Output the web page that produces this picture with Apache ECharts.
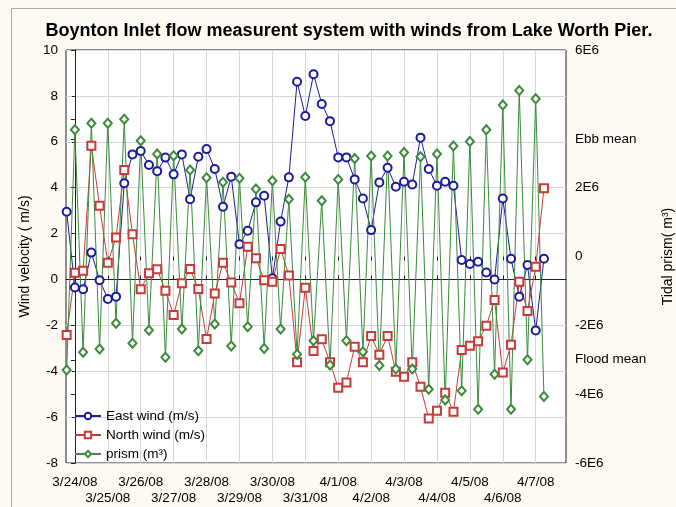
<!DOCTYPE html>
<html><head><meta charset="utf-8">
<script src="https://cdn.jsdelivr.net/npm/echarts@6/dist/echarts.min.js"></script>
<style>html,body{margin:0;padding:0;background:#fdfaf2}#c{width:676px;height:507px}</style>
</head><body><div id="c"></div>
<script>
// ---- data ----
const dayLabels = ['3/24/08','3/25/08','3/26/08','3/27/08','3/28/08','3/29/08','3/30/08','3/31/08',
  '4/1/08','4/2/08','4/3/08','4/4/08','4/5/08','4/6/08','4/7/08'];
// samples every 6 hours starting 3/23/08 18:00 (day offsets from 3/24/08 00:00)
const sampleStartDay = -0.25;
const sampleStepDay = 0.25;
const eastWind = [2.95,-0.35,-0.43,1.17,-0.03,-0.85,-0.75,4.19,5.45,5.6,
  4.99,4.72,5.31,4.58,5.45,3.5,5.35,5.68,4.81,3.17,
  4.48,1.53,2.12,3.36,3.65,0.05,2.52,4.45,8.62,7.12,
  8.94,7.65,6.9,5.32,5.32,4.36,3.53,2.15,4.23,4.87,
  4.04,4.26,4.14,6.18,4.81,4.08,4.26,4.08,0.85,0.67,
  0.77,0.3,0.0,3.53,0.9,-0.75,0.63,-2.22,0.9];
const northWind = [-2.42,0.29,0.38,5.83,3.21,0.73,1.83,4.77,1.97,-0.43,
  0.27,0.44,-0.49,-1.55,-0.17,0.45,-0.42,-2.6,-0.61,0.73,
  -0.13,-1.04,1.42,0.92,-0.03,-0.1,1.33,0.17,-3.61,-0.36,
  -3.12,-2.61,-3.61,-4.72,-4.49,-2.93,-3.61,-2.47,-3.28,-2.46,
  -4.02,-4.24,-3.61,-4.68,-6.06,-5.72,-4.94,-5.77,-3.07,-2.89,
  -2.69,-2.02,-0.9,-4.06,-2.85,-0.1,-1.38,0.55,3.97];
// tidal prism in units of 1E6 m^3
const prismE6 = [-3.3,3.68,-2.78,3.87,-2.69,3.87,-1.94,3.99,-2.52,3.36,
  -2.14,2.98,-2.93,2.93,-2.11,2.51,-2.74,2.29,-1.96,2.16,
  -2.6,2.27,-2.04,1.96,-2.67,2.2,-2.11,1.66,-2.84,2.3,
  -2.45,1.62,-3.15,2.24,-2.45,2.85,-2.77,2.92,-3.17,2.92,
  -3.27,3.02,-3.27,2.9,-3.86,2.98,-4.17,3.21,-3.9,3.34,
  -4.44,3.68,-3.42,4.4,-4.44,4.82,-3.0,4.58,-4.07];
const prismTickValues = [-6,-4,-3,-2,0,2,3.42,4,6];
const prismTickLabels = ['-6E6','-4E6','Flood mean','-2E6','0','2E6','Ebb mean','','6E6'];

// ---- build ----
const dayTicks = dayLabels.map((_, i) => i);
const evenDays = dayTicks.filter(i => i % 2 === 0);
const oddDays = dayTicks.filter(i => i % 2 === 1);
const xOf = i => sampleStartDay + i * sampleStepDay;
const pairs = arr => arr.map((v, i) => [xOf(i), v]);
const FONT = '"Liberation Sans", Arial, sans-serif';
const FS = 13.5;
const XMIN = -0.27, XMAX = 14.92;
const dayFmt = v => dayLabels[Math.round(v)] || '';

const chart = echarts.init(document.getElementById('c'), null, {renderer: 'canvas'});
chart.setOption({
  animation: false,
  backgroundColor: '#fdfaf2',
  textStyle: {fontFamily: FONT},
  graphic: [{
    type: 'rect', shape: {x: 11.5, y: 8.5, width: 700, height: 600},
    style: {fill: 'none', stroke: '#a8a8a8', lineWidth: 1}, silent: true, z: -1
  }],
  title: {
    text: 'Boynton Inlet flow measurent system with winds from Lake Worth Pier.',
    left: 344, textAlign: 'center', top: 17,
    textStyle: {fontFamily: FONT, fontSize: 18, fontWeight: 'bold', color: '#000'}
  },
  grid: {left: 66, right: 110, top: 50, bottom: 44, show: true, containLabel: false,
    outerBoundsMode: 'none',
    backgroundColor: '#ffffff', borderColor: '#222', borderWidth: 1},
  legend: {
    orient: 'vertical', left: 69, top: 404, itemWidth: 26, itemHeight: 8, itemGap: 5,
    textStyle: {fontFamily: FONT, fontSize: FS, color: '#000'},
    data: ['East wind (m/s)', 'North wind (m/s)', 'prism (m³)']
  },
  xAxis: [{
    type: 'value', min: XMIN, max: XMAX,
    axisLine: {show: true, lineStyle: {color: '#222'}},
    axisTick: {show: true, inside: true, length: 4, customValues: dayTicks, lineStyle: {color: '#222'}},
    axisLabel: {customValues: evenDays, margin: 12, fontSize: FS, color: '#000', fontFamily: FONT,
      showMinLabel: true, showMaxLabel: true, formatter: dayFmt},
    splitLine: {show: true, lineStyle: {color: '#d6d6d6', width: 1}}
  }, {
    type: 'value', position: 'top', min: XMIN, max: XMAX,
    axisLine: {show: false},
    axisTick: {show: true, inside: true, length: 4, customValues: dayTicks, lineStyle: {color: '#222'}},
    axisLabel: {show: false},
    splitLine: {show: false}
  }, {
    type: 'value', position: 'bottom', min: XMIN, max: XMAX,
    axisLine: {show: false}, axisTick: {show: false}, splitLine: {show: false},
    axisLabel: {customValues: oddDays, margin: 28, fontSize: FS, color: '#000', fontFamily: FONT,
      showMinLabel: true, showMaxLabel: true, formatter: dayFmt}
  }],
  yAxis: [{
    type: 'value', min: -8, max: 10, interval: 2,
    name: 'Wind velocity ( m/s)', nameLocation: 'middle', nameRotate: 90, nameGap: 27,
    nameTextStyle: {fontFamily: FONT, fontSize: 14, color: '#000'},
    axisLine: {show: true, lineStyle: {color: '#222'}},
    axisTick: {show: true, length: 3, lineStyle: {color: '#222'}},
    axisLabel: {fontSize: FS, color: '#000', margin: 8, fontFamily: FONT},
    splitLine: {show: true, lineStyle: {color: '#d6d6d6', width: 1}}
  }, {
    type: 'value', position: 'right', min: -6, max: 6,
    name: 'Tidal prism( m³)', nameLocation: 'middle', nameRotate: 90, nameGap: 95,
    nameTextStyle: {fontFamily: FONT, fontSize: 14, color: '#000'},
    axisLine: {show: true, lineStyle: {color: '#222'}},
    axisTick: {show: true, inside: true, length: 4, customValues: prismTickValues, lineStyle: {color: '#222'}},
    axisLabel: {customValues: prismTickValues, fontSize: FS, color: '#000', margin: 9, fontFamily: FONT,
      showMinLabel: true, showMaxLabel: true,
      formatter: v => { let best = 0; prismTickValues.forEach((t, k) => { if (Math.abs(t - v) < Math.abs(prismTickValues[best] - v)) best = k; }); return prismTickLabels[best]; }},
    splitLine: {show: false}
  }],
  series: [{
    name: 'East wind (m/s)', type: 'line', xAxisIndex: 0, yAxisIndex: 0,
    data: pairs(eastWind), symbol: 'emptyCircle', symbolSize: 8,
    lineStyle: {color: '#1b1b9c', width: 1}, itemStyle: {color: '#1b1b9c', borderWidth: 1}
  }, {
    name: 'North wind (m/s)', type: 'line', xAxisIndex: 0, yAxisIndex: 0,
    data: pairs(northWind), symbol: 'emptyRect', symbolSize: 8,
    lineStyle: {color: '#c83a3a', width: 1}, itemStyle: {color: '#c83a3a', borderWidth: 1}
  }, {
    name: 'prism (m³)', type: 'line', xAxisIndex: 0, yAxisIndex: 1,
    data: pairs(prismE6), symbol: 'emptyDiamond', symbolSize: [8, 9],
    lineStyle: {color: '#3a8a3a', width: 1}, itemStyle: {color: '#3a8a3a', borderWidth: 1}
  }]
});
</script></body></html>
